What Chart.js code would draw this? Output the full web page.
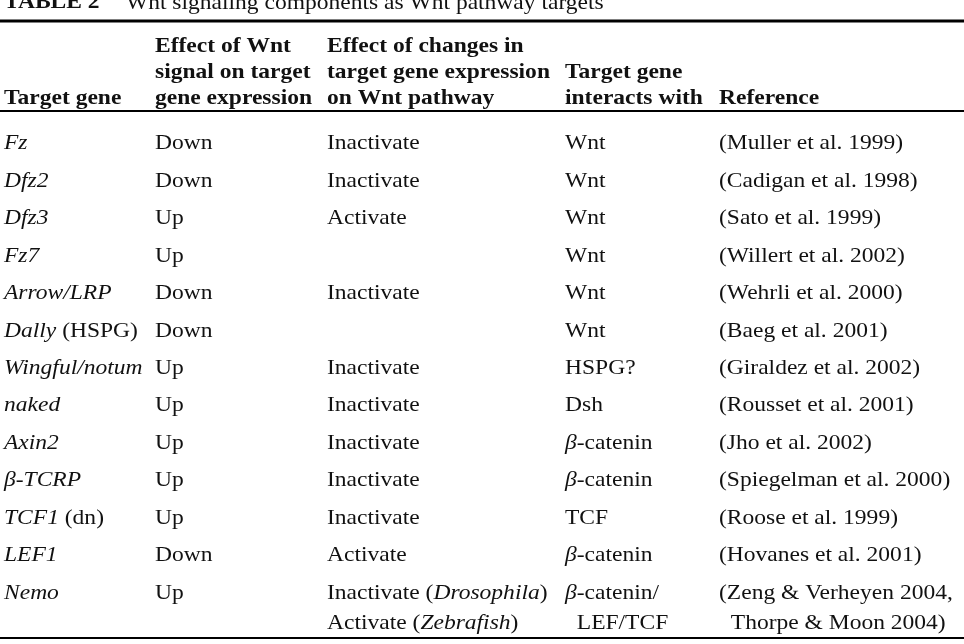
<!DOCTYPE html>
<html>
<head>
<meta charset="utf-8">
<script src="https://cdn.jsdelivr.net/npm/chart.js@4"></script>
<style>
  html, body { margin: 0; padding: 0; background: #fff; }
  #wrap { position: relative; width: 964px; height: 644px; }
</style>
</head>
<body>
<div id="wrap"><canvas id="c"></canvas></div>
<script>
// table content, one array per column; segments are [text, italic]
const genes = [
  [['Fz', 1]], [['Dfz2', 1]], [['Dfz3', 1]], [['Fz7', 1]],
  [['Arrow/LRP', 1]], [['Dally', 1], [' (HSPG)', 0]], [['Wingful/notum', 1]],
  [['naked', 1]], [['Axin2', 1]], [['β-TCRP', 1]], [['TCF1', 1], [' (dn)', 0]],
  [['LEF1', 1]], [['Nemo', 1]]
];
const wntEffect = ['Down', 'Down', 'Up', 'Up', 'Down', 'Down', 'Up', 'Up', 'Up', 'Up', 'Up', 'Down', 'Up'];
const pathwayEffect = [
  [['Inactivate', 0]], [['Inactivate', 0]], [['Activate', 0]], [],
  [['Inactivate', 0]], [], [['Inactivate', 0]], [['Inactivate', 0]],
  [['Inactivate', 0]], [['Inactivate', 0]], [['Inactivate', 0]], [['Activate', 0]],
  [['Inactivate (', 0], ['Drosophila', 1], [')', 0]]
];
const pathwayEffect2 = { 12: [['Activate (', 0], ['Zebrafish', 1], [')', 0]] };
const interacts = [
  [['Wnt', 0]], [['Wnt', 0]], [['Wnt', 0]], [['Wnt', 0]], [['Wnt', 0]], [['Wnt', 0]],
  [['HSPG?', 0]], [['Dsh', 0]], [['β', 1], ['-catenin', 0]], [['β', 1], ['-catenin', 0]],
  [['TCF', 0]], [['β', 1], ['-catenin', 0]], [['β', 1], ['-catenin/', 0]]
];
const interacts2 = { 12: [['  LEF/TCF', 0]] };
const references = [
  '(Muller et al. 1999)', '(Cadigan et al. 1998)', '(Sato et al. 1999)', '(Willert et al. 2002)',
  '(Wehrli et al. 2000)', '(Baeg et al. 2001)', '(Giraldez et al. 2002)', '(Rousset et al. 2001)',
  '(Jho et al. 2002)', '(Spiegelman et al. 2000)', '(Roose et al. 1999)', '(Hovanes et al. 2001)',
  '(Zeng & Verheyen 2004,'
];
const references2 = { 12: '  Thorpe & Moon 2004)' };
const headers = [
  ['', '', 'Target gene'],
  ['Effect of Wnt', 'signal on target', 'gene expression'],
  ['Effect of changes in', 'target gene expression', 'on Wnt pathway'],
  ['', 'Target gene', 'interacts with'],
  ['', '', 'Reference']
];
const columnX = [4, 155, 327, 565, 719];
const rowLabels = genes.map(g => g.map(s => s[0]).join(''));

const FONT = '"Liberation Serif", "DejaVu Serif", serif';
const STRETCH = 1.12; // the reference face is wider than Liberation Serif

function text(ctx, t, x, y, font) {
  ctx.font = font;
  ctx.save();
  ctx.translate(x, y);
  ctx.scale(STRETCH, 1);
  ctx.fillText(t, 0, 0);
  ctx.restore();
  return ctx.measureText(t).width * STRETCH;
}

function drawSegs(ctx, segs, x, y) {
  segs.forEach(([t, it]) => {
    x += text(ctx, t, x, y, (it ? 'italic ' : '') + '21px ' + FONT);
  });
}

const tablePlugin = {
  id: 'table',
  afterDraw(chart) {
    const ctx = chart.ctx;
    const xs = chart.scales.x, ys = chart.scales.y;
    const cx = columnX.map(v => xs.getPixelForValue(v));
    ctx.save();
    ctx.fillStyle = '#111';
    ctx.strokeStyle = '#000';
    ctx.textBaseline = 'middle';
    // title (cut off at top)
    text(ctx, 'TABLE 2', 4, 3, 'bold 21px ' + FONT);
    text(ctx, 'Wnt signaling components as Wnt pathway targets', 126, 3, '21px ' + FONT);
    // rules
    ctx.lineWidth = 3;
    ctx.beginPath(); ctx.moveTo(0, 21); ctx.lineTo(964, 21); ctx.stroke();
    ctx.lineWidth = 2;
    ctx.beginPath(); ctx.moveTo(0, 111); ctx.lineTo(964, 111); ctx.stroke();
    ctx.beginPath(); ctx.moveTo(0, 638); ctx.lineTo(964, 638); ctx.stroke();
    // header
    headers.forEach((lines, c) => {
      lines.forEach((t, l) => { if (t) text(ctx, t, cx[c], 47 + l * 26, 'bold 21px ' + FONT); });
    });
    // body
    rowLabels.forEach((lab, i) => {
      const y = ys.getPixelForValue(i);
      drawSegs(ctx, genes[i], cx[0], y);
      drawSegs(ctx, [[wntEffect[i], 0]], cx[1], y);
      drawSegs(ctx, pathwayEffect[i], cx[2], y);
      drawSegs(ctx, interacts[i], cx[3], y);
      drawSegs(ctx, [[references[i], 0]], cx[4], y);
      const y2 = y + 30;
      if (pathwayEffect2[i]) drawSegs(ctx, pathwayEffect2[i], cx[2], y2);
      if (interacts2[i]) drawSegs(ctx, interacts2[i], cx[3], y2);
      if (references2[i]) drawSegs(ctx, [[references2[i], 0]], cx[4], y2);
    });
    ctx.restore();
  }
};

new Chart(document.getElementById('c'), {
  type: 'bar',
  data: { labels: rowLabels, datasets: [{ data: [], backgroundColor: 'transparent' }] },
  options: {
    responsive: true,
    maintainAspectRatio: false,
    animation: false,
    indexAxis: 'y',
    layout: { padding: { top: 125, bottom: 32, left: 0, right: 0 } },
    plugins: { legend: { display: false }, tooltip: { enabled: false } },
    scales: {
      x: { type: 'linear', min: 0, max: 964, display: false },
      y: { type: 'category', display: false, offset: true }
    }
  },
  plugins: [tablePlugin]
});
</script>
</body>
</html>
